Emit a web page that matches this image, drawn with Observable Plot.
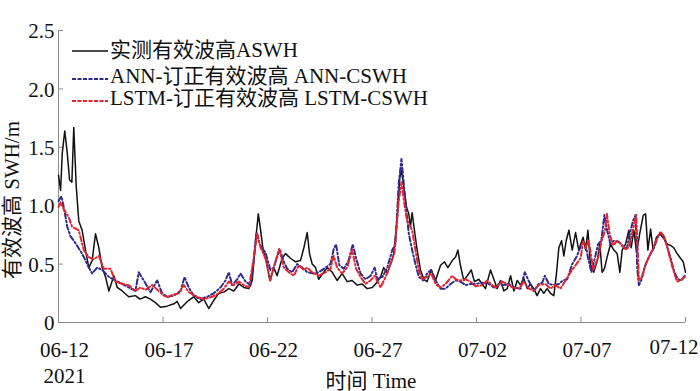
<!DOCTYPE html>
<html><head><meta charset="utf-8">
<script src="https://cdn.jsdelivr.net/npm/d3@7"></script>
<script src="https://cdn.jsdelivr.net/npm/@observablehq/plot@0.6"></script>
<style>
body{margin:0;background:#fff;}
#wrap{position:relative;width:700px;height:391px;overflow:hidden;font-family:"Liberation Serif","Times New Roman","Noto Sans CJK SC",serif;color:#111;}
.lab{position:absolute;white-space:nowrap;font-size:21px;line-height:1;}
.leg{position:absolute;left:72px;font-size:21px;line-height:1;white-space:nowrap;display:flex;align-items:center;}
.leg svg{margin-right:2px;}
</style></head><body><div id="wrap"></div>
<script>
// ---- data (day offset from 2021-06-12, significant wave height in m) ----
const startDay = "2021-06-12";
const tickDays = [0, 5, 10, 15, 20, 25, 30];
const tickLabels = ["06-12\n2021", "06-17", "06-22", "06-27", "07-02", "07-07", "07-12"];
const yTicks = [0, 0.5, 1.0, 1.5, 2.0, 2.5];
const yTickLabels = ["0", "0.5", "1.0", "1.5", "2.0", "2.5"];
const seriesNames = ["实测有效波高ASWH", "ANN-订正有效波高 ANN-CSWH", "LSTM-订正有效波高 LSTM-CSWH"];
const yLabel = "有效波高 SWH/m";
const xLabel = "时间 Time";

const aswh = [
[0,1.26],[0.10,1.13],[0.18,1.45],[0.30,1.64],[0.42,1.45],[0.53,1.22],[0.64,1.20],[0.73,1.67],[0.85,1.16],[0.97,0.87],
[1.13,0.79],[1.29,0.62],[1.45,0.47],[1.61,0.53],[1.77,0.76],[1.93,0.64],[2.09,0.47],[2.25,0.39],[2.41,0.27],[2.65,0.40],
[2.81,0.30],[3.05,0.27],[3.36,0.22],[3.68,0.23],[3.90,0.20],[4.16,0.22],[4.40,0.20],[4.64,0.17],[4.88,0.13],[5.20,0.14],
[5.52,0.16],[5.68,0.18],[5.84,0.12],[6.00,0.15],[6.23,0.19],[6.47,0.22],[6.71,0.17],[6.95,0.20],[7.19,0.12],[7.43,0.19],
[7.67,0.25],[7.91,0.26],[8.15,0.29],[8.39,0.27],[8.63,0.33],[8.87,0.30],[9.11,0.29],[9.27,0.36],[9.43,0.70],[9.56,0.93],
[9.67,0.79],[9.79,0.62],[9.95,0.52],[10.11,0.36],[10.30,0.47],[10.46,0.40],[10.70,0.55],[10.86,0.59],[11.10,0.55],[11.34,0.52],
[11.58,0.53],[11.74,0.64],[11.90,0.77],[12.01,0.59],[12.14,0.50],[12.30,0.47],[12.45,0.37],[12.69,0.43],[12.86,0.47],[13.10,0.43],
[13.33,0.36],[13.57,0.42],[13.81,0.35],[14.05,0.36],[14.29,0.32],[14.53,0.33],[14.77,0.29],[15.01,0.30],[15.17,0.33],[15.41,0.39],
[15.56,0.47],[15.73,0.42],[15.89,0.50],[16.04,0.59],[16.21,0.90],[16.33,1.24],[16.41,1.30],[16.52,1.16],[16.65,0.99],[16.76,0.93],
[16.84,0.82],[16.92,0.94],[17.03,0.79],[17.16,0.62],[17.32,0.45],[17.48,0.37],[17.64,0.35],[17.83,0.45],[18.04,0.36],[18.28,0.49],
[18.47,0.52],[18.63,0.47],[18.84,0.53],[19.00,0.56],[19.11,0.62],[19.23,0.49],[19.39,0.36],[19.56,0.40],[19.75,0.45],[19.90,0.35],
[20.11,0.37],[20.27,0.33],[20.43,0.29],[20.67,0.45],[20.83,0.37],[20.99,0.29],[21.15,0.36],[21.31,0.27],[21.47,0.29],[21.63,0.40],
[21.79,0.27],[21.95,0.36],[22.11,0.32],[22.26,0.38],[22.43,0.29],[22.58,0.33],[22.74,0.29],[22.90,0.23],[23.06,0.29],[23.22,0.25],
[23.38,0.29],[23.54,0.25],[23.70,0.23],[23.81,0.39],[23.94,0.64],[24.07,0.70],[24.18,0.57],[24.29,0.70],[24.42,0.79],[24.58,0.62],
[24.74,0.77],[24.89,0.62],[25.10,0.73],[25.22,0.62],[25.33,0.79],[25.45,0.50],[25.61,0.43],[25.78,0.53],[25.90,0.67],[26.01,0.43],
[26.12,0.46],[26.25,0.56],[26.41,0.67],[26.57,0.62],[26.73,0.59],[26.86,0.43],[26.97,0.62],[27.13,0.67],[27.29,0.79],[27.40,0.64],
[27.53,0.79],[27.66,0.60],[27.81,0.76],[27.98,0.92],[28.09,0.93],[28.20,0.62],[28.33,0.80],[28.45,0.62],[28.61,0.73],[28.77,0.76],
[28.96,0.72],[29.12,0.67],[29.28,0.66],[29.44,0.64],[29.60,0.59],[29.76,0.55],[29.89,0.52],[30.00,0.43]
];

const annCswh = [
[0,1.04],[0.14,1.08],[0.25,0.99],[0.42,0.82],[0.57,0.74],[0.81,0.68],[1.13,0.59],[1.45,0.47],[1.61,0.42],[1.85,0.47],
[2.09,0.45],[2.41,0.39],[2.73,0.36],[3.05,0.33],[3.36,0.30],[3.68,0.27],[3.84,0.43],[4.08,0.36],[4.40,0.26],[4.72,0.36],
[4.96,0.25],[5.20,0.22],[5.52,0.23],[5.84,0.27],[6.03,0.39],[6.23,0.30],[6.47,0.23],[6.79,0.20],[7.11,0.22],[7.43,0.25],
[7.75,0.30],[7.99,0.36],[8.15,0.43],[8.31,0.32],[8.55,0.37],[8.71,0.42],[8.95,0.35],[9.19,0.32],[9.35,0.55],[9.47,0.77],
[9.63,0.67],[9.90,0.60],[10.14,0.45],[10.30,0.47],[10.58,0.63],[10.78,0.52],[10.94,0.46],[11.18,0.43],[11.42,0.50],[11.66,0.47],
[11.90,0.43],[12.22,0.42],[12.45,0.43],[12.78,0.47],[13.01,0.50],[13.17,0.63],[13.28,0.67],[13.44,0.49],[13.65,0.46],[13.88,0.53],
[14.08,0.67],[14.24,0.55],[14.45,0.42],[14.69,0.37],[14.93,0.40],[15.13,0.47],[15.25,0.37],[15.50,0.39],[15.73,0.47],[15.97,0.62],
[16.12,0.67],[16.28,1.19],[16.41,1.40],[16.52,1.19],[16.64,0.96],[16.76,0.76],[16.92,0.62],[17.08,0.50],[17.24,0.39],[17.45,0.36],
[17.64,0.42],[17.83,0.45],[18.04,0.36],[18.28,0.29],[18.52,0.29],[18.76,0.33],[19.00,0.36],[19.23,0.35],[19.48,0.32],[19.71,0.33],
[19.95,0.33],[20.27,0.34],[20.59,0.33],[20.83,0.30],[21.07,0.33],[21.31,0.32],[21.55,0.33],[21.79,0.30],[22.11,0.29],[22.31,0.43],
[22.49,0.36],[22.74,0.27],[22.97,0.33],[23.14,0.34],[23.27,0.40],[23.46,0.33],[23.70,0.32],[23.94,0.33],[24.13,0.36],[24.34,0.37],
[24.58,0.50],[24.81,0.57],[24.98,0.65],[25.10,0.69],[25.22,0.67],[25.34,0.55],[25.50,0.43],[25.66,0.55],[25.82,0.67],[25.97,0.70],
[26.12,0.92],[26.25,0.79],[26.41,0.67],[26.57,0.70],[26.81,0.69],[27.05,0.64],[27.21,0.64],[27.33,0.76],[27.49,0.87],[27.61,0.92],
[27.69,0.47],[27.77,0.32],[27.88,0.36],[28.04,0.47],[28.17,0.53],[28.33,0.59],[28.49,0.64],[28.67,0.73],[28.83,0.77],[28.99,0.73],
[29.14,0.64],[29.32,0.53],[29.47,0.43],[29.63,0.37],[29.80,0.36],[29.96,0.40]
];

const lstmCswh = [
[0,0.99],[0.10,1.03],[0.25,0.97],[0.49,0.90],[0.65,0.82],[0.97,0.79],[1.21,0.62],[1.45,0.56],[1.69,0.54],[1.93,0.57],
[2.17,0.46],[2.49,0.46],[2.73,0.35],[3.05,0.33],[3.36,0.32],[3.68,0.27],[3.92,0.30],[4.16,0.28],[4.48,0.32],[4.80,0.27],
[5.04,0.23],[5.20,0.22],[5.52,0.24],[5.76,0.25],[6.00,0.32],[6.23,0.26],[6.63,0.22],[6.95,0.20],[7.35,0.22],[7.67,0.25],
[7.91,0.29],[8.15,0.35],[8.39,0.32],[8.63,0.35],[8.87,0.32],[9.11,0.30],[9.35,0.56],[9.51,0.76],[9.67,0.64],[9.90,0.55],
[10.14,0.36],[10.30,0.47],[10.55,0.63],[10.78,0.47],[11.02,0.43],[11.26,0.40],[11.50,0.49],[11.74,0.45],[11.90,0.47],[12.14,0.43],
[12.45,0.40],[12.78,0.43],[13.01,0.46],[13.17,0.57],[13.33,0.47],[13.57,0.42],[13.81,0.47],[14.05,0.62],[14.24,0.46],[14.45,0.39],
[14.69,0.33],[14.93,0.36],[15.13,0.40],[15.41,0.30],[15.65,0.39],[15.89,0.50],[16.07,0.59],[16.28,1.04],[16.41,1.20],[16.57,0.99],
[16.68,0.87],[16.81,0.83],[16.92,0.79],[17.08,0.62],[17.24,0.45],[17.40,0.37],[17.64,0.39],[17.83,0.42],[18.04,0.33],[18.28,0.30],
[18.52,0.33],[18.84,0.40],[19.00,0.37],[19.23,0.36],[19.48,0.37],[19.71,0.35],[19.95,0.31],[20.27,0.32],[20.51,0.36],[20.75,0.32],
[20.91,0.30],[21.23,0.35],[21.47,0.33],[21.71,0.30],[22.03,0.29],[22.26,0.35],[22.51,0.29],[22.74,0.27],[22.97,0.32],[23.30,0.33],
[23.54,0.29],[23.78,0.32],[24.02,0.29],[24.26,0.36],[24.50,0.43],[24.74,0.49],[24.98,0.55],[25.10,0.69],[25.22,0.64],[25.37,0.70],
[25.52,0.53],[25.58,0.45],[25.83,0.56],[25.99,0.70],[26.15,0.79],[26.24,0.93],[26.37,0.76],[26.53,0.66],[26.73,0.70],[26.94,0.67],
[27.16,0.62],[27.32,0.66],[27.48,0.79],[27.64,0.92],[27.73,0.56],[27.77,0.36],[27.93,0.39],[28.09,0.50],[28.25,0.56],[28.41,0.62],
[28.57,0.69],[28.77,0.77],[28.93,0.75],[29.09,0.67],[29.25,0.56],[29.41,0.45],[29.60,0.35],[29.76,0.36],[29.96,0.39]
];

// ---- build ----
const t0 = Date.parse(startDay + "T00:00:00Z");
const toDate = d => new Date(t0 + d * 864e5);
const rows = (arr, name) => arr.map(([d, v]) => ({date: toDate(d), v, name}));
const tickDates = tickDays.map(toDate);
const labelOf = new Map(tickDays.map((d, i) => [+toDate(d), tickLabels[i]]));
const yLabelOf = new Map(yTicks.map((v, i) => [v, yTickLabels[i]]));

const colors = ["#111111", "#2e2a8f", "#e8232b"];
const dashes = [null, "5,2.5,1.5,2.5", "5,2.5,1.5,2.5"];
const fontFamily = '"Liberation Serif","Times New Roman","Noto Sans CJK SC",serif';
const axisGray = "#8c8c8c";

const chart = Plot.plot({
  width: 700, height: 391,
  marginLeft: 58, marginRight: 15, marginTop: 30, marginBottom: 69,
  style: {fontFamily, fontSize: "21px", color: "#111", background: "#fff", overflow: "visible"},
  x: {type: "utc", domain: [toDate(0), toDate(30)]},
  y: {domain: [0, 2.5]},
  marks: [
    Plot.ruleY([0], {stroke: axisGray, strokeWidth: 1}),
    Plot.ruleX([toDate(0)], {stroke: axisGray, strokeWidth: 1}),
    Plot.axisX(tickDates, {tickSize: -5, stroke: axisGray, tickFormat: () => "", label: null}),
    Plot.axisY(yTicks, {tickSize: -5, stroke: axisGray, tickFormat: () => "", label: null}),
    Plot.axisX(tickDates.slice(0, -1), {tickSize: 0, tickPadding: 17, dx: 6, lineHeight: 1.2, fill: "#111",
      letterSpacing: "0.8px", tickFormat: d => labelOf.get(+d), label: null}),
    Plot.axisX(tickDates.slice(-1), {tickSize: 0, tickPadding: 17, dx: 13, textAnchor: "end", fill: "#111",
      letterSpacing: "0.8px", tickFormat: d => labelOf.get(+d), label: null}),
    Plot.axisY(yTicks, {tickSize: 0, tickPadding: 4, dy: 1, fill: "#111",
      tickFormat: v => yLabelOf.get(v), label: null}),
    Plot.line(rows(aswh, seriesNames[0]), {x: "date", y: "v", stroke: colors[0], strokeWidth: 1.5}),
    Plot.line(rows(annCswh, seriesNames[1]), {x: "date", y: "v", stroke: colors[1], strokeWidth: 2, strokeDasharray: dashes[1]}),
    Plot.line(rows(lstmCswh, seriesNames[2]), {x: "date", y: "v", stroke: colors[2], strokeWidth: 2, strokeDasharray: dashes[2]})
  ]
});

const wrap = document.getElementById("wrap");
wrap.appendChild(chart);

// y-axis title
const yl = document.createElement("div");
yl.className = "lab";
yl.textContent = yLabel;
yl.style.left = "12px"; yl.style.top = "200px";
yl.style.transform = "translate(-50%,-50%) rotate(-90deg)";
wrap.appendChild(yl);

// x-axis title
const xl = document.createElement("div");
xl.className = "lab";
xl.textContent = xLabel;
xl.style.left = "371px"; xl.style.top = "381px";
xl.style.transform = "translate(-50%,-50%)";
wrap.appendChild(xl);

// legend
const legTops = [50, 76, 98];
seriesNames.forEach((name, i) => {
  const row = document.createElement("div");
  row.className = "leg";
  row.style.top = (legTops[i] - 11) + "px";
  const dash = dashes[i] ? `stroke-dasharray="4,1.5"` : "";
  row.innerHTML = `<svg width="36" height="22"><line x1="0" x2="36" y1="${i === 0 ? 12 : 14}" y2="${i === 0 ? 12 : 14}" stroke="${colors[i]}" stroke-width="${i === 0 ? 1.5 : 2}" ${dash}/></svg><span>${name}</span>`;
  wrap.appendChild(row);
});
</script></body></html>
